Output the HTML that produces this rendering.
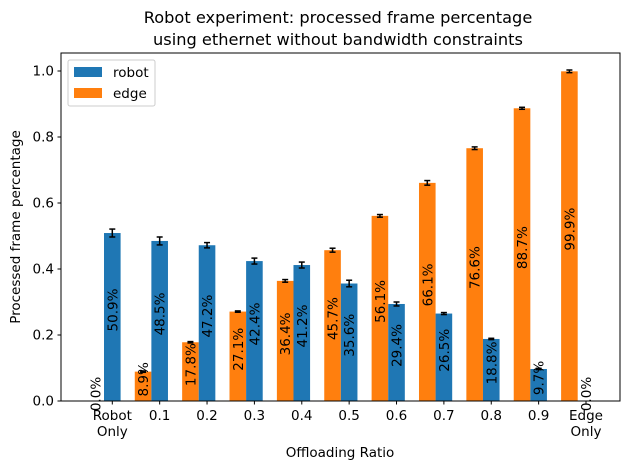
<!DOCTYPE html>
<html><head><meta charset="utf-8"><style>
body{margin:0;background:#fff;font-family:"DejaVu Sans","Liberation Sans",sans-serif;}
svg text{font-family:"DejaVu Sans","Liberation Sans",sans-serif;}
</style></head><body>
<svg id="c" width="630" height="470" viewBox="0 0 630 470" xmlns="http://www.w3.org/2000/svg">
<text x="338" y="23" font-size="16.2" text-anchor="middle">Robot experiment: processed frame percentage</text>
<text x="338" y="45" font-size="16.2" text-anchor="middle">using ethernet without bandwidth constraints</text>
<g id="plot"></g>
<rect x="61" y="53" width="559" height="348" fill="none" stroke="#000" stroke-width="1"/>
<text x="340" y="457" font-size="13.5" text-anchor="middle">Offloading Ratio</text>
<text transform="translate(20,227) rotate(-90)" font-size="13.5" text-anchor="middle">Processed frame percentage</text>
<g>
<rect x="68" y="60" width="87" height="46" rx="2" fill="#fff" fill-opacity="0.8" stroke="#ccc"/>
<rect x="74" y="67" width="28" height="10" fill="#1f77b4"/>
<text x="113" y="77" font-size="13.5">robot</text>
<rect x="74" y="88" width="28" height="10" fill="#ff7f0e"/>
<text x="113" y="98" font-size="13.5">edge</text>
</g>
</svg>
<script>
const categories=["Robot\nOnly","0.1","0.2","0.3","0.4","0.5","0.6","0.7","0.8","0.9","Edge\nOnly"];
const robotValues=[0.509,0.485,0.472,0.424,0.412,0.356,0.294,0.265,0.188,0.097,0.0];
const edgeValues=[0.0,0.089,0.178,0.271,0.364,0.457,0.561,0.661,0.766,0.887,0.999];
const robotErr=[0.012,0.012,0.008,0.009,0.009,0.01,0.006,0.003,0.002,0.002,0];
const edgeErr=[0,0.002,0.002,0.002,0.004,0.006,0.004,0.007,0.004,0.003,0.004];
const yTicks=[0.0,0.2,0.4,0.6,0.8,1.0];
const NS="http://www.w3.org/2000/svg";
const g=document.getElementById('plot');
const x0=112.3,dx=47.37,bw=16.6;
const xPos=i=>x0+i*dx;
const yPos=v=>401-v*330;
function mk(t,a){const e=document.createElementNS(NS,t);for(const k in a)e.setAttribute(k,a[k]);g.appendChild(e);return e;}
yTicks.forEach(t=>{
  const l=mk('line',{x1:57.5,x2:61,y1:yPos(t),y2:yPos(t),stroke:'#000'});
  
  
  const tx=mk('text',{x:54,y:yPos(t)+4.5,'font-size':13.5,'text-anchor':'end'});
  tx.textContent=t.toFixed(1);
  
  
});
categories.forEach((c,i)=>{
  const x=xPos(i);
  const l=mk('line',{x1:x,x2:x,y1:401,y2:404.5,stroke:'#000'});
  
  
  c.split('\n').forEach((p,j)=>{
    const t=mk('text',{x:x,y:420+j*16,'font-size':13.5,'text-anchor':'middle'});
    t.textContent=p;
    
    
  });
  [[edgeValues,edgeErr,'#ff7f0e',x-8.3-bw,'edge'],[robotValues,robotErr,'#1f77b4',x-8.3,'robot']].forEach(([vals,errs,col,bx,nm])=>{
    const v=vals[i];
    const r=mk('rect',{x:bx,y:yPos(v),width:bw,height:401-yPos(v),fill:col});
    
    
    const cx=bx+bw/2;
    if(v>0){
      const e=errs[i];
      mk('line',{x1:cx,x2:cx,y1:yPos(v+e),y2:yPos(v-e),stroke:'#000','stroke-width':1.5});
      mk('line',{x1:cx-3,x2:cx+3,y1:yPos(v+e),y2:yPos(v+e),stroke:'#000','stroke-width':1.5});
      mk('line',{x1:cx-3,x2:cx+3,y1:yPos(v-e),y2:yPos(v-e),stroke:'#000','stroke-width':1.5});
    }
    const cy=yPos(v/2)-7;
    const t=mk('text',{transform:`translate(${cx+5},${cy}) rotate(-90)`,'font-size':13.5,'text-anchor':'middle'});
    t.textContent=(v*100).toFixed(1)+'%';
    
    
  });
});
</script>
</body></html>
